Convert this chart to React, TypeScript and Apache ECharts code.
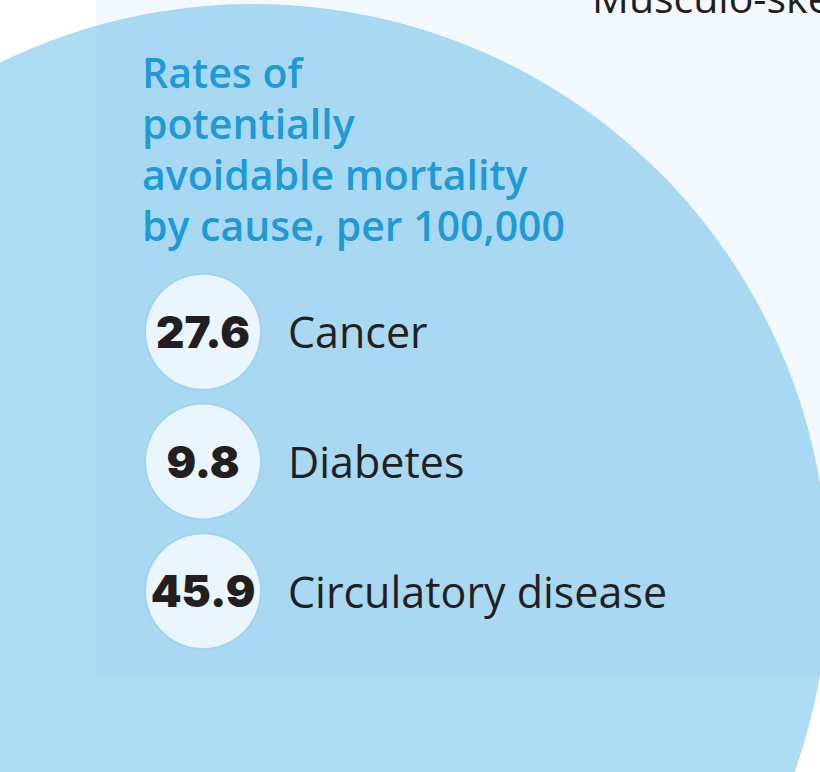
import React, { useEffect, useRef } from "react";
import * as echarts from "echarts";

const causes = ["Cancer", "Diabetes", "Circulatory disease"];
const rates = [27.6, 9.8, 45.9];
const titleLines = ["Rates of", "potentially", "avoidable mortality", "by cause, per 100,000"];
const topLabel = "Musculo-skeletal";

export default function App() {
  const ref = useRef<HTMLDivElement>(null);
  useEffect(() => {
    if (!ref.current) return;
    const chart = echarts.init(ref.current, undefined, { renderer: "svg" });
    const titleEls = titleLines.map((t, i) => ({
      type: "text",
      z: 5,
      style: {
        x: 142,
        y: 51 + i * 51,
        text: t,
        fill: "#1e9ad7",
        font: "600 41px 'Open Sans', sans-serif",
        verticalAlign: "top",
        align: "left",
      },
    }));
    chart.setOption({
      animation: false,
      backgroundColor: "#ffffff",
      grid: { left: 143, width: 120, top: 267, height: 389 },
      xAxis: { type: "value", min: 0, max: 1, show: false },
      yAxis: {
        type: "category",
        data: causes,
        inverse: true,
        position: "right",
        axisLine: { show: false },
        axisTick: { show: false },
        splitLine: { show: false },
        axisLabel: {
          margin: 25,
          fontSize: 43,
          fontFamily: "'Open Sans', sans-serif",
          color: "#231f20",
        },
      },
      graphic: [
        {
          type: "circle",
          z: -20,
          silent: true,
          shape: { cx: 253, cy: 579, r: 575 },
          style: { fill: "#addcf3" },
        },
        {
          type: "rect",
          z: -10,
          silent: true,
          shape: { x: 96, y: 0, width: 724, height: 676 },
          style: { fill: "rgba(142,194,235,0.1)" },
        },
        {
          type: "text",
          z: 5,
          style: {
            x: 592,
            y: -24,
            text: topLabel,
            fill: "#231f20",
            font: "41px 'Open Sans', sans-serif",
            verticalAlign: "top",
          },
        },
        ...titleEls,
      ],
      series: [
        {
          type: "scatter",
          data: rates.map((v, i) => [0.5, causes[i]]),
          symbolSize: 116,
          itemStyle: { color: "#eaf5fc", borderColor: "#9fd3f0", borderWidth: 2, opacity: 1 },
          label: {
            show: true,
            position: "inside",
            formatter: (p: any) => rates[p.dataIndex].toFixed(1),
            fontSize: 44,
            fontWeight: 900,
            fontFamily: "Inter, sans-serif",
            color: "#231f20",
          },
          silent: true,
        },
      ],
    });
    return () => chart.dispose();
  }, []);
  return (
    <div
      ref={ref}
      style={{ position: "fixed", left: 0, top: 0, width: 820, height: 772 }}
    />
  );
}
